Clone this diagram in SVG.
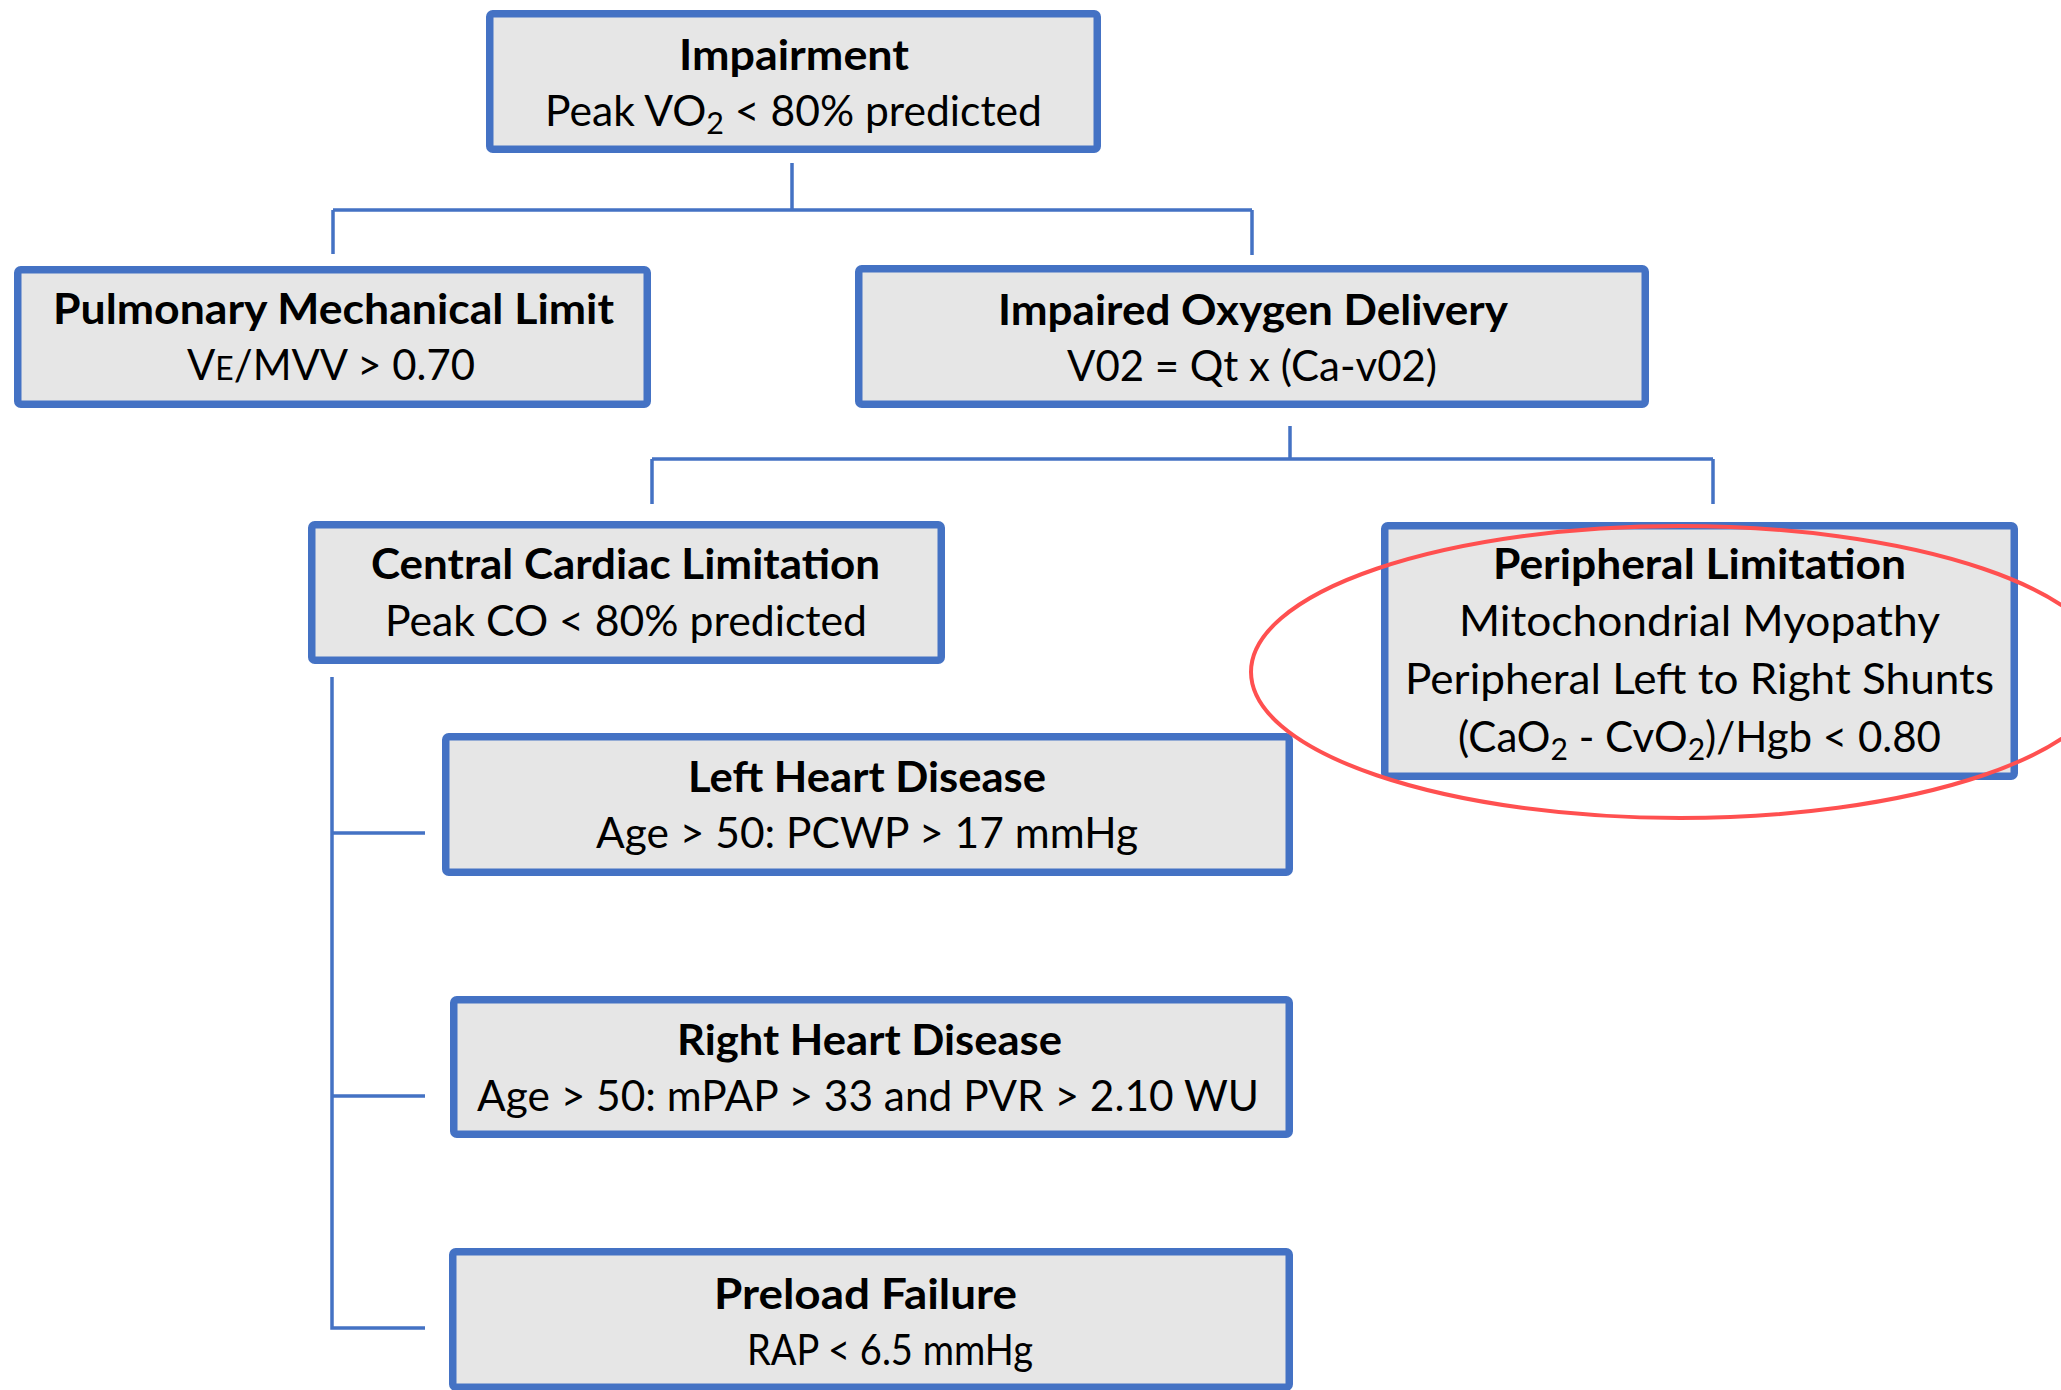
<svg xmlns="http://www.w3.org/2000/svg" width="2061" height="1390" viewBox="0 0 2061 1390">
<style>
.box{fill:#E6E6E6;stroke:#4472C4;stroke-width:7.5}
.con{fill:none;stroke:#4472C4;stroke-width:3.5}
text{font-family:Lato,"Open Sans","Liberation Sans",sans-serif;font-size:42px;fill:#000}
.b{font-weight:bold}
.sub{font-size:30px}
</style>
<rect width="2061" height="1390" fill="#fff"/>
<g id="connectors">
<path class="con" d="M792 163V210M333 210H1252M333 210V254M1252 210V255"/>
<path class="con" d="M1290 426V459M652 459H1713M652 459V504M1713 459V504"/>
<path class="con" d="M332 677V1328H425M332 833H425M332 1096H425"/>
</g>
<g id="impairment">
<rect class="box" x="489.75" y="13.75" width="607.5" height="135.5" rx="3"/>
<text class="b" x="679" y="70" textLength="230" lengthAdjust="spacingAndGlyphs">Impairment</text>
<text x="545" y="126" textLength="497" lengthAdjust="spacingAndGlyphs">Peak VO<tspan class="sub" dy="8">2</tspan><tspan dy="-8"> &lt; 80% predicted</tspan></text>
</g>
<g id="pulmonary">
<rect class="box" x="17.75" y="269.75" width="629.5" height="134.5" rx="3"/>
<text class="b" x="53" y="324" textLength="561" lengthAdjust="spacingAndGlyphs">Pulmonary Mechanical Limit</text>
<text x="187" y="380" textLength="288" lengthAdjust="spacingAndGlyphs">V<tspan font-size="32">E</tspan>/MVV &gt; 0.70</text>
</g>
<g id="oxygen-delivery">
<rect class="box" x="858.75" y="268.75" width="786.5" height="135.5" rx="3"/>
<text class="b" x="998" y="325" textLength="510" lengthAdjust="spacingAndGlyphs">Impaired Oxygen Delivery</text>
<text x="1067" y="381" textLength="370" lengthAdjust="spacingAndGlyphs">V02 = Qt x (Ca-v02)</text>
</g>
<g id="central-cardiac">
<rect class="box" x="311.75" y="524.75" width="629.5" height="135.5" rx="3"/>
<text class="b" x="371" y="579" textLength="509" lengthAdjust="spacingAndGlyphs">Central Cardiac Limitation</text>
<text x="385" y="636" textLength="482" lengthAdjust="spacingAndGlyphs">Peak CO &lt; 80% predicted</text>
</g>
<g id="peripheral">
<rect class="box" x="1384.75" y="525.75" width="629.5" height="250.5" rx="3"/>
<text class="b" x="1493" y="579" textLength="413" lengthAdjust="spacingAndGlyphs">Peripheral Limitation</text>
<text x="1459" y="636" textLength="481" lengthAdjust="spacingAndGlyphs">Mitochondrial Myopathy</text>
<text x="1405" y="694" textLength="589" lengthAdjust="spacingAndGlyphs">Peripheral Left to Right Shunts</text>
<text x="1458" y="752" textLength="483" lengthAdjust="spacingAndGlyphs">(CaO<tspan class="sub" dy="8">2</tspan><tspan dy="-8"> - CvO</tspan><tspan class="sub" dy="8">2</tspan><tspan dy="-8">)/Hgb &lt; 0.80</tspan></text>
</g>
<g id="left-heart">
<rect class="box" x="445.75" y="736.75" width="843.5" height="135.5" rx="3"/>
<text class="b" x="688" y="792" textLength="358" lengthAdjust="spacingAndGlyphs">Left Heart Disease</text>
<text x="596" y="848" textLength="542" lengthAdjust="spacingAndGlyphs">Age &gt; 50: PCWP &gt; 17 mmHg</text>
</g>
<g id="right-heart">
<rect class="box" x="453.75" y="999.75" width="835.5" height="134.5" rx="3"/>
<text class="b" x="677" y="1055" textLength="385" lengthAdjust="spacingAndGlyphs">Right Heart Disease</text>
<text x="477" y="1111" textLength="782" lengthAdjust="spacingAndGlyphs">Age &gt; 50: mPAP &gt; 33 and PVR &gt; 2.10 WU</text>
</g>
<g id="preload">
<rect class="box" x="452.75" y="1251.75" width="836.5" height="135.5" rx="3"/>
<text class="b" x="714" y="1309" textLength="303" lengthAdjust="spacingAndGlyphs">Preload Failure</text>
<text x="747" y="1365" textLength="286" lengthAdjust="spacingAndGlyphs">RAP &lt; 6.5 mmHg</text>
</g>
<g id="highlight">
<ellipse cx="1680" cy="672" rx="429" ry="146" fill="none" stroke="#FF5050" stroke-width="4"/>
</g>
</svg>
